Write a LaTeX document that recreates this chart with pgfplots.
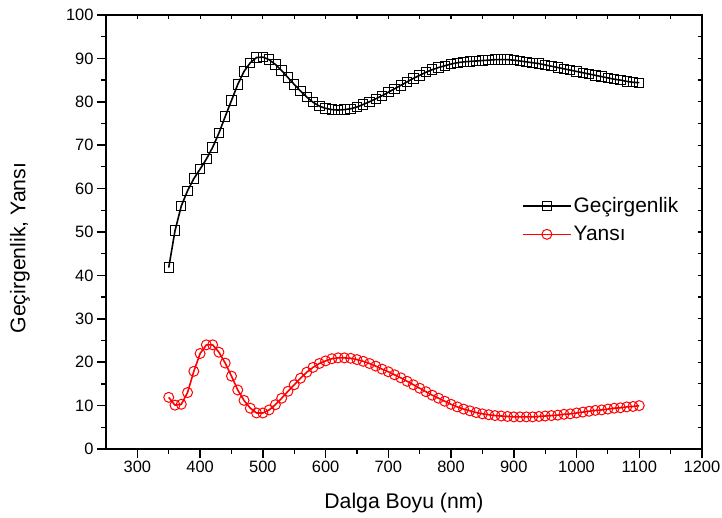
\documentclass[border=0pt]{standalone}
\usepackage{fontspec}
\setmainfont{Liberation Sans}
\usepackage{pgfplots}
\pgfplotsset{compat=1.18}
\begin{document}
\begin{tikzpicture}
\begin{axis}[
  name=main,
  scale only axis, width=596bp, height=434bp,
  xmin=250, xmax=1200, ymin=0, ymax=100,
  xtick={300,400,...,1200}, ytick={0,10,...,100},
  minor x tick num=1, minor y tick num=1,
  xtick pos=lower, ytick pos=left,
  tick align=outside, major tick length=9bp, minor tick length=4.5bp,
  axis line style={line width=1.5bp, black},
  every tick/.style={black, line width=1.5bp},
  minor tick style={line width=1.2bp},
  tick label style={font=\fontsize{16.5}{18}\selectfont},
  label style={font=\fontsize{21.3}{24}\selectfont},
  /pgf/number format/assume math mode=true,
  /pgf/number format/1000 sep={},
  xlabel={Dalga Boyu (nm)}, ylabel={Geçirgenlik, Yansı},
  xlabel shift=13bp,
  ylabel style={at={(rel axis cs:0,0.463)}, anchor=center, yshift=86bp},
  legend style={draw=none, fill=none, at={(axis cs:913,58.4)}, anchor=north west,
    font=\fontsize{21}{24}\selectfont, row sep=8bp, inner sep=0pt,
    /tikz/every even column/.append style={column sep=9bp}},
  legend cell align=left,
  legend image code/.code={\draw[mark repeat=2,mark phase=2] plot coordinates {(0cm,0cm) (0.845cm,0cm) (1.69cm,0cm)};},
]
\addplot[black, line width=1.6bp, mark=square, mark size=4.7bp, mark options={solid, fill=white, line width=1bp}] coordinates {
(350,41.8)(360,50.3)(370,56.0)(380,59.5)(390,62.3)(400,64.5)(410,66.8)(420,69.5)(430,72.8)(440,76.6)
(450,80.3)(460,84.0)(470,87.0)(480,89.0)(490,90.2)(500,90.3)(510,89.7)(520,88.6)(530,87.2)(540,85.6)
(550,84.0)(560,82.5)(570,81.1)(580,79.9)(590,79.0)(600,78.5)(610,78.2)(620,78.1)(630,78.2)(640,78.4)
(650,78.8)(660,79.4)(670,80.0)(680,80.7)(690,81.4)(700,82.2)(710,83.0)(720,83.8)(730,84.6)(740,85.4)
(750,86.1)(760,86.8)(770,87.4)(780,87.9)(790,88.3)(800,88.7)(810,89.0)(820,89.2)(830,89.3)(840,89.4)
(850,89.5)(860,89.6)(870,89.7)(880,89.7)(890,89.7)(900,89.6)(910,89.4)(920,89.2)(930,89.0)(940,88.8)
(950,88.5)(960,88.2)(970,87.9)(980,87.6)(990,87.3)(1000,87.0)(1010,86.7)(1020,86.4)(1030,86.1)(1040,85.8)
(1050,85.5)(1060,85.2)(1070,85.0)(1080,84.7)(1090,84.5)(1100,84.4)
};
\addlegendentry{Geçirgenlik}
\addplot[red, line width=1.6bp, mark=o, mark size=5bp, mark options={solid, fill=white, line width=1bp}] coordinates {
(350,11.9)(360,10.1)(370,10.3)(380,13.0)(390,17.9)(400,22.0)(410,24.0)(420,24.0)(430,22.3)(440,19.8)
(450,16.8)(460,13.6)(470,11.2)(480,9.4)(490,8.3)(500,8.3)(510,9.0)(520,10.2)(530,11.7)(540,13.3)
(550,14.8)(560,16.3)(570,17.7)(580,18.8)(590,19.7)(600,20.3)(610,20.8)(620,21.0)(630,21.0)(640,20.9)
(650,20.6)(660,20.2)(670,19.7)(680,19.1)(690,18.4)(700,17.8)(710,17.1)(720,16.4)(730,15.6)(740,14.8)
(750,14.0)(760,13.2)(770,12.4)(780,11.7)(790,11.0)(800,10.3)(810,9.7)(820,9.2)(830,8.8)(840,8.4)
(850,8.1)(860,7.9)(870,7.7)(880,7.6)(890,7.5)(900,7.4)(910,7.4)(920,7.4)(930,7.4)(940,7.5)
(950,7.6)(960,7.7)(970,7.8)(980,8.0)(990,8.1)(1000,8.3)(1010,8.5)(1020,8.7)(1030,8.9)(1040,9.0)
(1050,9.2)(1060,9.4)(1070,9.5)(1080,9.7)(1090,9.8)(1100,10.0)
};
\addlegendentry{Yansı}
\end{axis}
\begin{axis}[
  scale only axis, width=596bp, height=434bp,
  xmin=250, xmax=1200, ymin=0, ymax=100,
  xtick={300,350,...,1150}, ytick={5,10,...,95},
  xticklabels={}, yticklabels={},
  xtick pos=upper, ytick pos=right,
  tick align=inside, major tick length=4bp,
  axis line style={line width=1.5bp, black},
  every tick/.style={black, line width=1.2bp},
]
\end{axis}
\pgfresetboundingbox
\path (main.south west) ++(-106bp,-69bp) rectangle ++(722bp,518bp);
\end{tikzpicture}
\end{document}
